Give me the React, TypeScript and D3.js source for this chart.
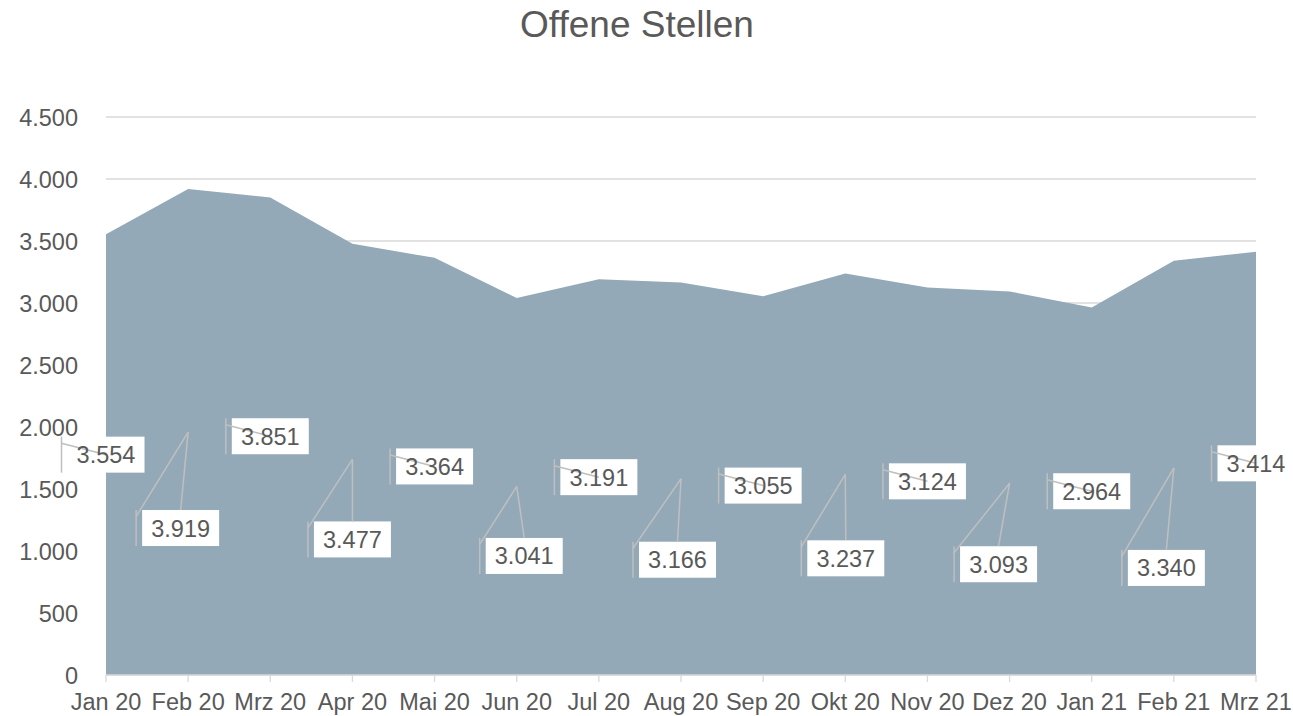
import React from "react";
import * as d3 from "d3";

// ---- data ----
const categories = [
  "Jan 20", "Feb 20", "Mrz 20", "Apr 20", "Mai 20", "Jun 20", "Jul 20", "Aug 20",
  "Sep 20", "Okt 20", "Nov 20", "Dez 20", "Jan 21", "Feb 21", "Mrz 21",
];
const values = [3554, 3919, 3851, 3477, 3364, 3041, 3191, 3166, 3055, 3237, 3124, 3093, 2964, 3340, 3414];
const yTicks = [0, 500, 1000, 1500, 2000, 2500, 3000, 3500, 4000, 4500];
const title = "Offene Stellen";

// ---- layout (label callout shifts in px, relative to default centre position) ----
const labelShift: [number, number][] = [
  [0, 0], [-7.5, 96], [0, 0], [0, 80], [0, 0], [7.5, 69.5], [0, 0], [-3.5, 81],
  [0, 0], [0.5, 84], [0, 0], [-11, 81], [0, 0], [-7.5, 100], [0, 0],
];

const W = 1293;
const H = 716;
const left = 106;
const right = 1256;
const top = 117;
const bottom = 675;
const FONT = "'Liberation Sans', Arial, sans-serif";
const TEXT = "#595959";
const GRID = "#D9D9D9";
const FILL = "#93A9B8";
const LEADER = "#BFBFBF";
const BOX_W = 77;
const BOX_H = 36;

const de = d3.formatLocale({ decimal: ",", thousands: ".", grouping: [3], currency: ["", "€"] });
const fmt = de.format(",d");

export default function App() {
  const x = d3.scalePoint<string>().domain(categories).range([left, right]);
  const y = d3.scaleLinear().domain([0, 4500]).range([bottom, top]);

  const area = d3
    .area<number>()
    .x((_, i) => x(categories[i]) as number)
    .y0(y(0))
    .y1((d) => y(d));

  return (
    <svg
      width={W}
      height={H}
      style={{ position: "absolute", left: 0, top: 0, background: "#fff" }}
      fontFamily={FONT}
    >
      <text x={637} y={37} textAnchor="middle" fontSize={37} fill={TEXT}>
        {title}
      </text>

      {yTicks.map((t) => (
        <g key={t}>
          <line x1={left} x2={right} y1={y(t)} y2={y(t)} stroke={GRID} strokeWidth={1.3} />
          <text x={78} y={y(t) + 8.5} textAnchor="end" fontSize={23.5} fill={TEXT}>
            {fmt(t)}
          </text>
        </g>
      ))}

      <path d={area(values) || ""} fill={FILL} />

      <line x1={left} x2={right} y1={bottom} y2={bottom} stroke={GRID} strokeWidth={1.3} />
      {categories.map((c) => (
        <g key={c}>
          <line x1={x(c)} x2={x(c)} y1={bottom} y2={bottom + 7} stroke={GRID} strokeWidth={1.3} />
          <text x={x(c)} y={710} textAnchor="middle" fontSize={23.5} fill={TEXT}>
            {c}
          </text>
        </g>
      ))}

      {values.map((v, i) => {
        const ax = x(categories[i]) as number;
        const ay = y(v / 2);
        const [dx, dy] = labelShift[i];
        const cx = ax + dx;
        const cy = ay + dy;
        const bx = cx - BOX_W / 2;
        const by = cy - BOX_H / 2;
        const vx = bx - 6;
        const moved = dy !== 0;
        return (
          <g key={i}>
            <rect x={bx} y={by} width={BOX_W} height={BOX_H} fill="#fff" />
            <line x1={vx} x2={vx} y1={by} y2={by + BOX_H} stroke={LEADER} strokeWidth={1.5} />
            <line x1={vx} y1={by + 6.5} x2={ax} y2={ay} stroke={LEADER} strokeWidth={1.5} />
            {moved && <line x1={ax} y1={ay} x2={cx} y2={by} stroke={LEADER} strokeWidth={1.5} />}
            <text x={cx} y={cy + 8.5} textAnchor="middle" fontSize={23.5} fill={TEXT}>
              {fmt(v)}
            </text>
          </g>
        );
      })}
    </svg>
  );
}
